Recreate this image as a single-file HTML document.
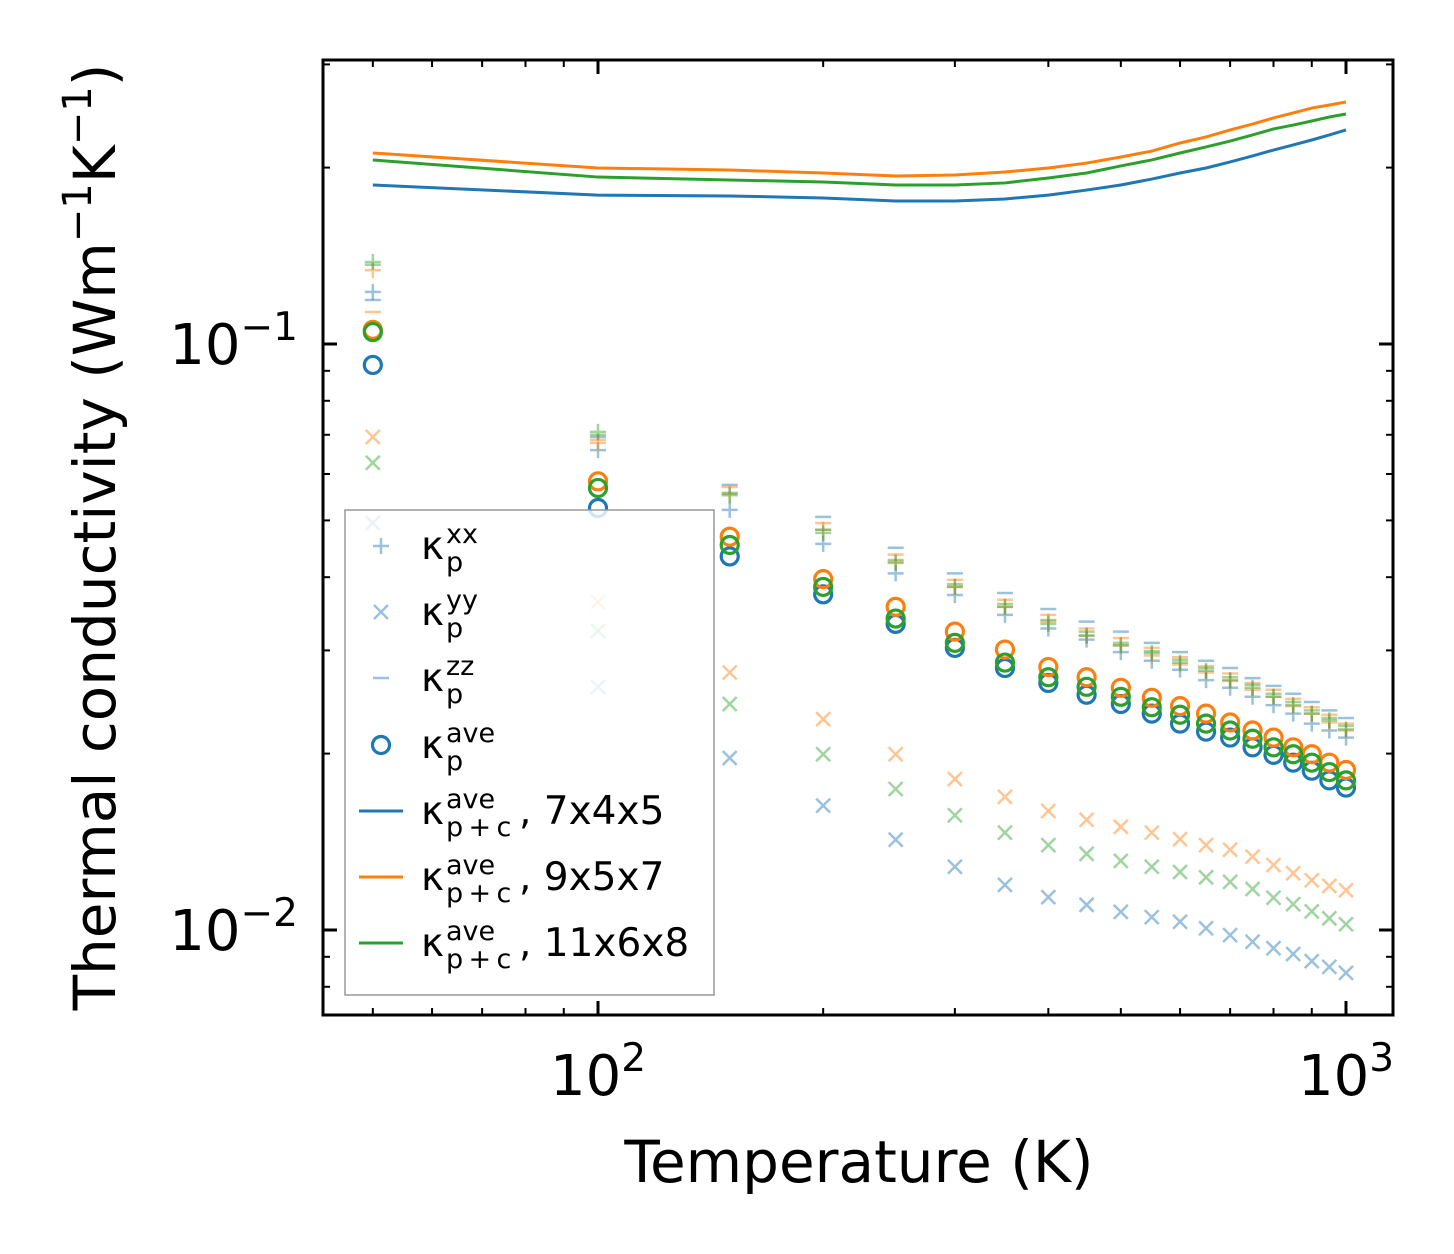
<!DOCTYPE html>
<html><head><meta charset="utf-8"><style>
html,body{margin:0;padding:0;background:#fff;}
svg{display:block;font-family:"DejaVu Sans","Liberation Sans",sans-serif;}
</style></head><body>
<svg id="chart" width="1454" height="1254" viewBox="0 0 1454 1254" xmlns="http://www.w3.org/2000/svg">
<g id="plot"></g>
<g id="axes"></g>
<g id="legend"></g>
</svg>
<script>
const temps = [50,100,150,200,250,300,350,400,450,500,550,600,650,700,750,800,850,900,950,1000];
const lineBlue = [0.1868,0.1795,0.1789,0.1775,0.1754,0.1754,0.1768,0.1795,0.1831,0.1868,0.1912,0.1958,0.1997,0.2045,0.2094,0.2143,0.2186,0.2229,0.2274,0.2319];
const lineOrange = [0.2118,0.1997,0.1981,0.1958,0.1935,0.1943,0.1966,0.1997,0.2036,0.2085,0.2134,0.2203,0.2256,0.2319,0.2373,0.2431,0.2479,0.2527,0.2558,0.2588];
const lineGreen = [0.2061,0.1927,0.1905,0.1890,0.1868,0.1868,0.1883,0.1920,0.1958,0.2013,0.2061,0.2118,0.2169,0.2220,0.2274,0.2328,0.2364,0.2402,0.2440,0.2469];
const aveBlue = [0.0921,0.0525,0.0434,0.0374,0.0333,0.0303,0.0280,0.0264,0.0252,0.0243,0.0234,0.0225,0.0218,0.0213,0.0205,0.0199,0.0193,0.0187,0.0180,0.0175];
const aveOrange = [0.1057,0.0583,0.0469,0.0397,0.0356,0.0323,0.0301,0.0281,0.0270,0.0259,0.0249,0.0241,0.0234,0.0226,0.0219,0.0213,0.0205,0.01995,0.0193,0.01875];
const aveGreen = [0.1048,0.0568,0.0454,0.0385,0.0340,0.0309,0.0286,0.0270,0.0260,0.0250,0.0240,0.0233,0.0225,0.0219,0.0212,0.0205,0.01995,0.0193,0.0186,0.0180];
const yyBlue = [0.0495,0.0260,0.01966,0.0163,0.01426,0.01282,0.01194,0.01138,0.01104,0.01074,0.01052,0.01033,0.01007,0.0098,0.00955,0.00931,0.0091,0.00885,0.00865,0.00845];
const yyOrange = [0.0694,0.0363,0.0275,0.0229,0.01995,0.0181,0.01687,0.01596,0.01542,0.0150,0.01466,0.01429,0.01396,0.01371,0.01334,0.01291,0.0125,0.01216,0.01189,0.01169];
const yyGreen = [0.0627,0.0324,0.0243,0.01995,0.0174,0.0157,0.01466,0.01396,0.01349,0.01312,0.01282,0.01256,0.0123,0.01208,0.01175,0.01135,0.01107,0.01076,0.01047,0.01023];
const xxBlue = [0.1227,0.0659,0.0521,0.0456,0.0406,0.0373,0.0345,0.0327,0.0313,0.0298,0.0288,0.0278,0.0267,0.0259,0.0250,0.0242,0.0234,0.0225,0.0219,0.0213];
const xxOrange = [0.1337,0.0678,0.0555,0.0482,0.0425,0.0385,0.0356,0.0336,0.0318,0.0306,0.0294,0.0284,0.0275,0.0266,0.0257,0.0250,0.0241,0.0234,0.0226,0.0219];
const xxGreen = [0.138,0.0708,0.0552,0.0476,0.0423,0.0385,0.0356,0.0333,0.0318,0.0306,0.0297,0.0286,0.0277,0.0267,0.0259,0.0250,0.0242,0.0234,0.0228,0.0220];
const zzBlue = [0.1189,0.0694,0.0575,0.0507,0.0449,0.0406,0.0376,0.0353,0.0336,0.0323,0.0309,0.0298,0.0288,0.0280,0.0269,0.0261,0.0253,0.0245,0.0237,0.0230];
const zzOrange = [0.1134,0.0686,0.0570,0.0495,0.0437,0.0396,0.0366,0.0345,0.0327,0.0315,0.0303,0.0292,0.0282,0.0274,0.0264,0.0257,0.0248,0.0240,0.0233,0.0225];
const zzGreen = [0.1365,0.0700,0.0557,0.0482,0.0428,0.0389,0.0360,0.0338,0.0323,0.0309,0.0299,0.0289,0.0280,0.0270,0.0262,0.0253,0.0245,0.0237,0.0230,0.0223];

const NS='http://www.w3.org/2000/svg';
const L=323,R=1393,T=60,B=1015;
function xs(v){return 598+748*(Math.log10(v)-2);}
function ys(v){return 344-586*(Math.log10(v)+1);}
function mk(tag,attrs,parent){const e=document.createElementNS(NS,tag);for(const k in attrs)e.setAttribute(k,attrs[k]);parent.appendChild(e);return e;}
const plot=document.getElementById('plot'),axes=document.getElementById('axes'),leg=document.getElementById('legend');
const C={blue:'#1f77b4',orange:'#ff7f0e',green:'#2ca02c'};

function plus(g,x,y,c,s){return mk('path',{d:`M${x-s},${y}H${x+s}M${x},${y-s}V${y+s}`,stroke:c,'stroke-width':2.5,fill:'none',opacity:0.45},g);}
function cross(g,x,y,c,s){return mk('path',{d:`M${x-s},${y-s}L${x+s},${y+s}M${x-s},${y+s}L${x+s},${y-s}`,stroke:c,'stroke-width':2.5,fill:'none',opacity:0.45},g);}
function dash(g,x,y,c,s){return mk('path',{d:`M${x-s},${y}H${x+s}`,stroke:c,'stroke-width':2.5,fill:'none',opacity:0.45},g);}

const series=[
 {n:'blue',xx:xxBlue,yy:yyBlue,zz:zzBlue,ave:aveBlue,line:lineBlue},
 {n:'orange',xx:xxOrange,yy:yyOrange,zz:zzOrange,ave:aveOrange,line:lineOrange},
 {n:'green',xx:xxGreen,yy:yyGreen,zz:zzGreen,ave:aveGreen,line:lineGreen}];
series.forEach(s=>{
  const c=C[s.n];
  const gL=mk('g',{},plot);
  
  
  mk('polyline',{points:temps.map((t,i)=>xs(t)+','+ys(s.line[i])).join(' '),fill:'none',stroke:c,'stroke-width':3},gL);
});
series.forEach(s=>{
  const c=C[s.n];
  const g=mk('g',{},plot);
  
  
  temps.forEach((t,i)=>{
    const x=xs(t);
    plus(g,x,ys(s.xx[i]),c,8);
    cross(g,x,ys(s.yy[i]),c,7);
    dash(g,x,ys(s.zz[i]),c,8);
  });
});
series.forEach(s=>{
  const c=C[s.n];
  const g=mk('g',{},plot);
  
  
  temps.forEach((t,i)=>{
    mk('circle',{cx:xs(t),cy:ys(s.ave[i]),r:8.5,fill:'none',stroke:c,'stroke-width':3.2},g);
  });
});

const frame=mk('rect',{x:L,y:T,width:R-L,height:B-T,fill:'none',stroke:'#000','stroke-width':3},axes);


function tick(x1,y1,x2,y2,w){mk('line',{x1,y1,x2,y2,stroke:'#000','stroke-width':w},axes);}
for(let d=1;d<=3;d++){for(let m=1;m<10;m++){const v=m*Math.pow(10,d);const x=xs(v);if(x<L||x>R)continue;const len=m===1?14:7;const w=m===1?3:2;tick(x,B,x,B-len,w);tick(x,T,x,T+len,w);}}
for(let d=-3;d<=0;d++){for(let m=1;m<10;m++){const v=m*Math.pow(10,d);const y=ys(v);if(y<T||y>B)continue;const len=m===1?14:7;const w=m===1?3:2;tick(L,y,L+len,y,w);tick(R,y,R-len,y,w);}}
function tickLabel(x,y,base,exp,anchor,name){const t=mk('text',{x,y,'font-size':56,'text-anchor':anchor},axes);t.textContent=base;const s=mk('tspan',{dy:-24,'font-size':39},t);s.textContent=exp;return t;}
tickLabel(598,1095,'10','2','middle','x-tick-100');
tickLabel(1346,1095,'10','3','middle','x-tick-1000');
tickLabel(298,364,'10','\u22121','end','y-tick-0.1');
tickLabel(298,950,'10','\u22122','end','y-tick-0.01');
const xt=mk('text',{x:859,y:1182,'font-size':58,'text-anchor':'middle'},axes);

xt.textContent='Temperature (K)';
const yt=mk('text',{x:0,y:0,'font-size':58,'text-anchor':'middle',transform:'translate(115,537) rotate(-90)'},axes);

yt.textContent='Thermal conductivity (Wm';
let ts=mk('tspan',{dy:-24,'font-size':40},yt);ts.textContent='\u22121';
ts=mk('tspan',{dy:24},yt);ts.textContent='K';
ts=mk('tspan',{dy:-24,'font-size':40},yt);ts.textContent='\u22121';
ts=mk('tspan',{dy:24},yt);ts.textContent=')';

const box=mk('rect',{x:345,y:510,width:369,height:485,fill:'#fff','fill-opacity':0.8,stroke:'#999','stroke-width':1.5},leg);

const entries=[
 {y:546,type:'plus',sup:'xx',sub:'p',rest:'',name:'legend-entry-kxx'},
 {y:612,type:'cross',sup:'yy',sub:'p',rest:'',name:'legend-entry-kyy'},
 {y:678,type:'dash',sup:'zz',sub:'p',rest:'',name:'legend-entry-kzz'},
 {y:745,type:'circle',sup:'ave',sub:'p',rest:'',name:'legend-entry-kave'},
 {y:811,type:'line',c:C.blue,sup:'ave',sub:'p\u2009+\u2009c',rest:', 7x4x5',name:'legend-entry-7x4x5'},
 {y:877,type:'line',c:C.orange,sup:'ave',sub:'p\u2009+\u2009c',rest:', 9x5x7',name:'legend-entry-9x5x7'},
 {y:943,type:'line',c:C.green,sup:'ave',sub:'p\u2009+\u2009c',rest:', 11x6x8',name:'legend-entry-11x6x8'}];
entries.forEach(e=>{
  const g=mk('g',{},leg);
  
  
  if(e.type==='plus')plus(g,381,e.y,C.blue,8);
  if(e.type==='cross')cross(g,381,e.y,C.blue,7);
  if(e.type==='dash')dash(g,381,e.y,C.blue,8);
  if(e.type==='circle')mk('circle',{cx:381,cy:e.y,r:8.5,fill:'none',stroke:C.blue,'stroke-width':3.2},g);
  if(e.type==='line')mk('line',{x1:359,y1:e.y,x2:403,y2:e.y,stroke:e.c,'stroke-width':3},g);
  const k=mk('text',{x:421,y:e.y+13,'font-size':39},g);k.textContent='\u03ba';
  const sp=mk('text',{x:446,y:e.y-3,'font-size':27},g);sp.textContent=e.sup;
  const sb=mk('text',{x:446,y:e.y+25,'font-size':27},g);sb.textContent=e.sub;
  if(e.rest){const r=mk('text',{x:519,y:e.y+13,'font-size':39},g);r.textContent=e.rest;}
});
</script>
</body></html>
